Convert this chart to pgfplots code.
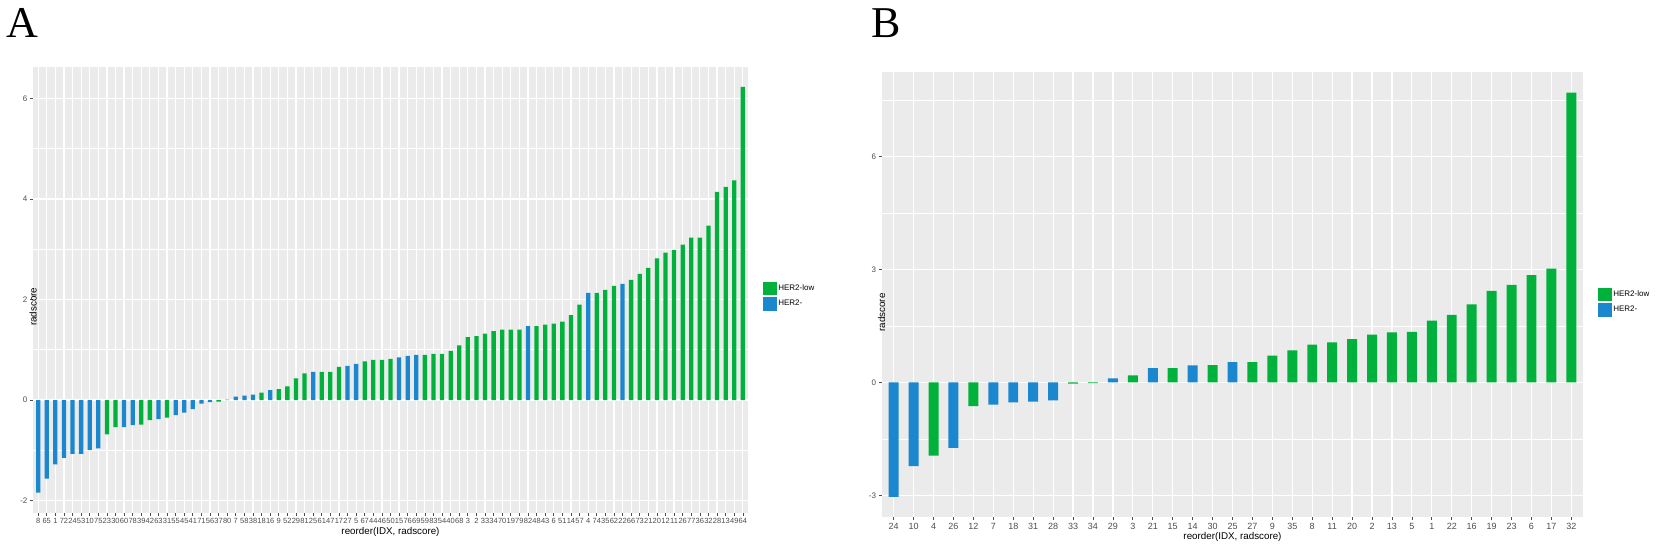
\documentclass[border=0pt]{standalone}
\usepackage{fontspec}
\setmainfont{Liberation Sans}
\newfontfamily\seriffont{Liberation Serif}
\usepackage{pgfplots}
\pgfplotsset{compat=1.18}
\definecolor{ggbg}{HTML}{EBEBEB}
\definecolor{herlow}{RGB}{0,178,60}
\definecolor{herneg}{RGB}{26,135,206}
\definecolor{ticklab}{HTML}{4D4D4D}
\pgfplotsset{
  ggstyle/.style={
    scale only axis,
    enlargelimits=false,
    axis background/.style={fill=ggbg},
    axis line style={draw=none},
    ybar, bar shift=0pt, bar width=0.5,
    ymajorgrids, xmajorgrids, yminorgrids,
    major grid style={white, line width=0.6pt},
    minor grid style={white, line width=0.3pt},
    tick pos=left, tick align=outside,
    major tick length=1.4pt, minor tick length=0pt,
    tick style={color=ticklab, line width=0.35pt},
    /pgf/number format/assume math mode=true,
    yticklabel style={font=\fontsize{4}{4.5}\selectfont, text=ticklab, inner sep=1.2pt},
    label style={font=\fontsize{4.9}{5.5}\selectfont},
    legend image code/.code={\fill[##1] (0pt,-3.3pt) rectangle (6.7pt,3.3pt);},
    legend style={draw=none, fill=none, inner sep=0pt, outer sep=0pt,
      font=\fontsize{4}{4.5}\selectfont, row sep=1.1pt,
      nodes={inner sep=0.8pt, anchor=west}},
    legend cell align=left,
  }
}
\begin{document}
\begin{tikzpicture}
\path[use as bounding box] (0pt,0pt) rectangle (833pt,276.5pt);
\node[anchor=base west, inner sep=0pt, font=\seriffont\fontsize{22}{22}\selectfont] at (3pt,257.5pt) {A};
\node[anchor=base west, inner sep=0pt, font=\seriffont\fontsize{22}{22}\selectfont] at (435.5pt,257.5pt) {B};

% Panel A
\begin{axis}[ggstyle,
  at={(16.5pt,20.15pt)}, anchor=south west,
  width=357.5pt, height=223pt,
  xmin=0.4, xmax=83.6, ymin=-2.24, ymax=6.63,
  ytick={-2,0,2,4,6}, minor ytick={-1,1,3,5},
  yticklabels={-2,0,2,4,6},
  xtick={1,...,83},
  xticklabels={8,65,1,72,24,53,10,75,23,30,60,78,39,42,63,31,55,45,41,71,56,37,80,7,58,38,18,16,9,52,29,81,25,61,47,17,27,5,67,44,46,50,15,76,69,59,83,54,40,68,3,2,33,34,70,19,79,82,48,43,6,51,14,57,4,74,35,62,22,66,73,21,20,12,11,26,77,36,32,28,13,49,64},
  xticklabel style={font=\fontsize{3.75}{4}\selectfont, text=ticklab, inner sep=1.2pt},
  xlabel={reorder(IDX, radscore)},
  ylabel={radscore},
  xlabel style={at={(axis description cs:0.5,0)}, anchor=center, yshift=-9.7pt},
  ylabel style={at={(axis description cs:0,0.5)}, anchor=center, xshift=-8.5pt},
  legend style={at={(axis description cs:1,0.485)}, anchor=west, xshift=7.65pt},
]
\addplot[fill=herlow, draw=none, bar shift=0pt] coordinates {
(9,-0.68) (10,-0.54) (13,-0.49) (14,-0.40) (16,-0.35) (22,-0.03) (23,0.01) (27,0.15) (29,0.22) (30,0.27) (31,0.43) (32,0.53) (34,0.56) (35,0.56) (36,0.66) (39,0.77) (40,0.80) (41,0.80) (42,0.82) (46,0.90) (47,0.92) (48,0.92) (49,0.98) (50,1.09) (51,1.25) (52,1.27) (53,1.32) (54,1.37) (55,1.40) (56,1.40) (57,1.40) (59,1.47) (60,1.50) (61,1.52) (62,1.56) (63,1.69) (64,1.90) (66,2.13) (67,2.19) (68,2.27) (70,2.39) (71,2.51) (72,2.63) (73,2.82) (74,2.93) (75,2.98) (76,3.09) (77,3.23) (78,3.23) (79,3.47) (80,4.14) (81,4.24) (82,4.37) (83,6.23)
};
\addlegendentry{HER2-low}
\addplot[fill=herneg, draw=none, bar shift=0pt] coordinates {
(1,-1.84) (2,-1.56) (3,-1.28) (4,-1.15) (5,-1.07) (6,-1.07) (7,-0.99) (8,-0.96) (11,-0.54) (12,-0.50) (15,-0.38) (17,-0.30) (18,-0.25) (19,-0.18) (20,-0.07) (21,-0.04) (24,0.07) (25,0.09) (26,0.11) (28,0.20) (33,0.56) (37,0.68) (38,0.72) (43,0.85) (44,0.88) (45,0.90) (58,1.47) (65,2.13) (69,2.31)
};
\addlegendentry{HER2-}
\end{axis}

% Panel B
\begin{axis}[ggstyle,
  at={(440.85pt,17.85pt)}, anchor=south west,
  width=350.8pt, height=222.5pt,
  xmin=0.4, xmax=35.6, ymin=-3.58, ymax=8.23,
  ytick={-3,0,3,6}, minor ytick={-1.5,1.5,4.5,7.5},
  yticklabels={-3,0,3,6},
  xtick={1,...,35},
  xticklabels={24,10,4,26,12,7,18,31,28,33,34,29,3,21,15,14,30,25,27,9,35,8,11,20,2,13,5,1,22,16,19,23,6,17,32},
  xticklabel style={font=\fontsize{4.5}{5}\selectfont, text=ticklab, inner sep=1.4pt},
  xlabel={reorder(IDX, radscore)},
  ylabel={radscore},
  xlabel style={at={(axis description cs:0.5,0)}, anchor=center, yshift=-10pt},
  ylabel style={at={(axis description cs:0,0.5)}, anchor=center, xshift=-8.85pt},
  legend style={at={(axis description cs:1,0.483)}, anchor=west, xshift=7.5pt},
]
\addplot[fill=herlow, draw=none, bar shift=0pt] coordinates {
(3,-1.94) (5,-0.63) (10,-0.035) (11,-0.02) (13,0.19) (15,0.38) (17,0.46) (19,0.54) (20,0.71) (21,0.85) (22,1.00) (23,1.06) (24,1.15) (25,1.27) (26,1.33) (27,1.34) (28,1.64) (29,1.79) (30,2.07) (31,2.43) (32,2.59) (33,2.85) (34,3.02) (35,7.69)
};
\addlegendentry{HER2-low}
\addplot[fill=herneg, draw=none, bar shift=0pt] coordinates {
(1,-3.04) (2,-2.22) (4,-1.74) (6,-0.59) (7,-0.53) (8,-0.51) (9,-0.48) (12,0.11) (14,0.38) (16,0.45) (18,0.54)
};
\addlegendentry{HER2-}
\end{axis}
\end{tikzpicture}
\end{document}
